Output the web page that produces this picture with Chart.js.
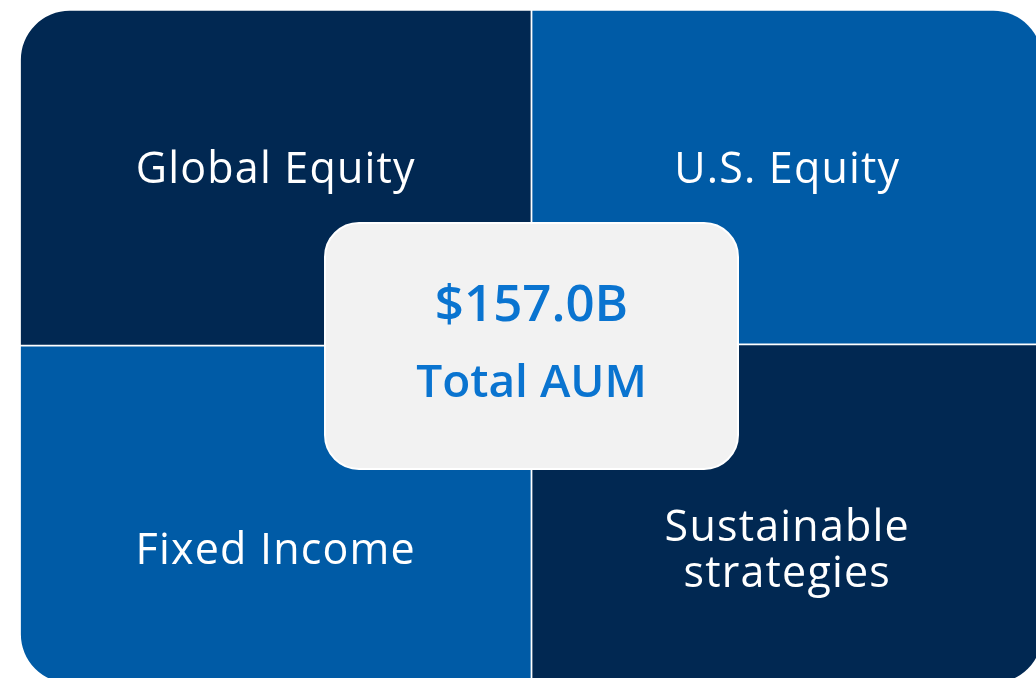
<!DOCTYPE html>
<html>
<head>
<meta charset="utf-8">
<script src="https://cdn.jsdelivr.net/npm/chart.js@4.4.0/dist/chart.umd.min.js"></script>
<style>
  html, body { margin: 0; padding: 0; background: #fff; overflow: hidden; }
  #wrap { width: 1100px; height: 720px; }
</style>
</head>
<body>
<div id="wrap"><canvas id="aumChart" width="1100" height="720"></canvas></div>
<script>
// columns of the 2x2 grid
const columns = ['left', 'right'];
// share of each column (top cell / bottom cell)
const topLabels = ['Global Equity', 'U.S. Equity'];
const topValues = [49.8, 49.6];
const bottomLabels = ['Fixed Income', 'Sustainable\nstrategies'];
const bottomValues = [50.2, 50.4];
const topColors = ['#012852', '#005BA6'];
const bottomColors = ['#005BA6', '#012852'];
const totalValue = '$157.0B';
const totalLabel = 'Total AUM';

const R = 50;

const labelPlugin = {
    id: 'cellLabels',
    afterDatasetsDraw(chart) {
        const ctx = chart.ctx;
        const area = chart.chartArea;
        ctx.save();
        ctx.fillStyle = '#ffffff';
        ctx.textAlign = 'center';
        ctx.textBaseline = 'middle';
        ctx.font = '400 43px "Open Sans"';
        ctx.letterSpacing = '1.2px';
        chart.data.datasets.forEach(function(ds, di) {
            const meta = chart.getDatasetMeta(di);
            meta.data.forEach(function(bar, i) {
                const top = Math.min(bar.y, bar.base);
                const h = Math.abs(bar.base - bar.y);
                const frac = ds.stackPos === 'top' ? 0.48 : 0.61;
                const lines = ds.names[i].split('\n');
                const cy = top + h * frac;
                const lh = 46;
                lines.forEach(function(line, k) {
                    ctx.fillText(line, bar.x, cy + (k - (lines.length - 1) / 2) * lh);
                });
            });
        });
        ctx.letterSpacing = '0px';

        // centre box
        const cx = (area.left + area.right) / 2;
        const cy = 346;
        const w = 413, h = 246, r = 34;
        ctx.beginPath();
        ctx.roundRect(cx - w / 2, cy - h / 2, w, h, r);
        ctx.fillStyle = '#f2f2f2';
        ctx.fill();
        ctx.lineWidth = 2;
        ctx.strokeStyle = '#ffffff';
        ctx.stroke();

        ctx.fillStyle = '#0a74d0';
        ctx.font = '600 51px "Open Sans"';
        ctx.fillText(totalValue, cx, cy - 40);
        ctx.font = '600 46px "Open Sans"';
        ctx.fillText(totalLabel, cx, cy + 38);
        ctx.restore();
    }
};

new Chart(document.getElementById('aumChart').getContext('2d'), {
    type: 'bar',
    data: {
        labels: columns,
        datasets: [
            {
                label: 'bottom',
                stackPos: 'bottom',
                names: bottomLabels,
                data: bottomValues,
                backgroundColor: bottomColors,
                borderColor: '#ffffff',
                borderWidth: 1.2,
                borderSkipped: false,
                borderRadius: function(c) {
                    return c.dataIndex === 0 ? { topLeft: 0, topRight: 0, bottomLeft: R, bottomRight: 0 }
                                             : { topLeft: 0, topRight: 0, bottomLeft: 0, bottomRight: R };
                }
            },
            {
                label: 'top',
                stackPos: 'top',
                names: topLabels,
                data: topValues,
                backgroundColor: topColors,
                borderColor: '#ffffff',
                borderWidth: 1.2,
                borderSkipped: false,
                borderRadius: function(c) {
                    return c.dataIndex === 0 ? { topLeft: R, topRight: 0, bottomLeft: 0, bottomRight: 0 }
                                             : { topLeft: 0, topRight: R, bottomLeft: 0, bottomRight: 0 };
                }
            }
        ]
    },
    options: {
        responsive: false,
        animation: false,
        layout: { padding: { left: 20, top: 10, right: 57, bottom: 36 } },
        datasets: { bar: { barPercentage: 1, categoryPercentage: 1 } },
        plugins: { legend: { display: false }, tooltip: { enabled: false } },
        scales: {
            x: { display: false, stacked: true },
            y: { display: false, stacked: true, min: 0, max: 100 }
        }
    },
    plugins: [labelPlugin]
});
</script>
</body>
</html>
